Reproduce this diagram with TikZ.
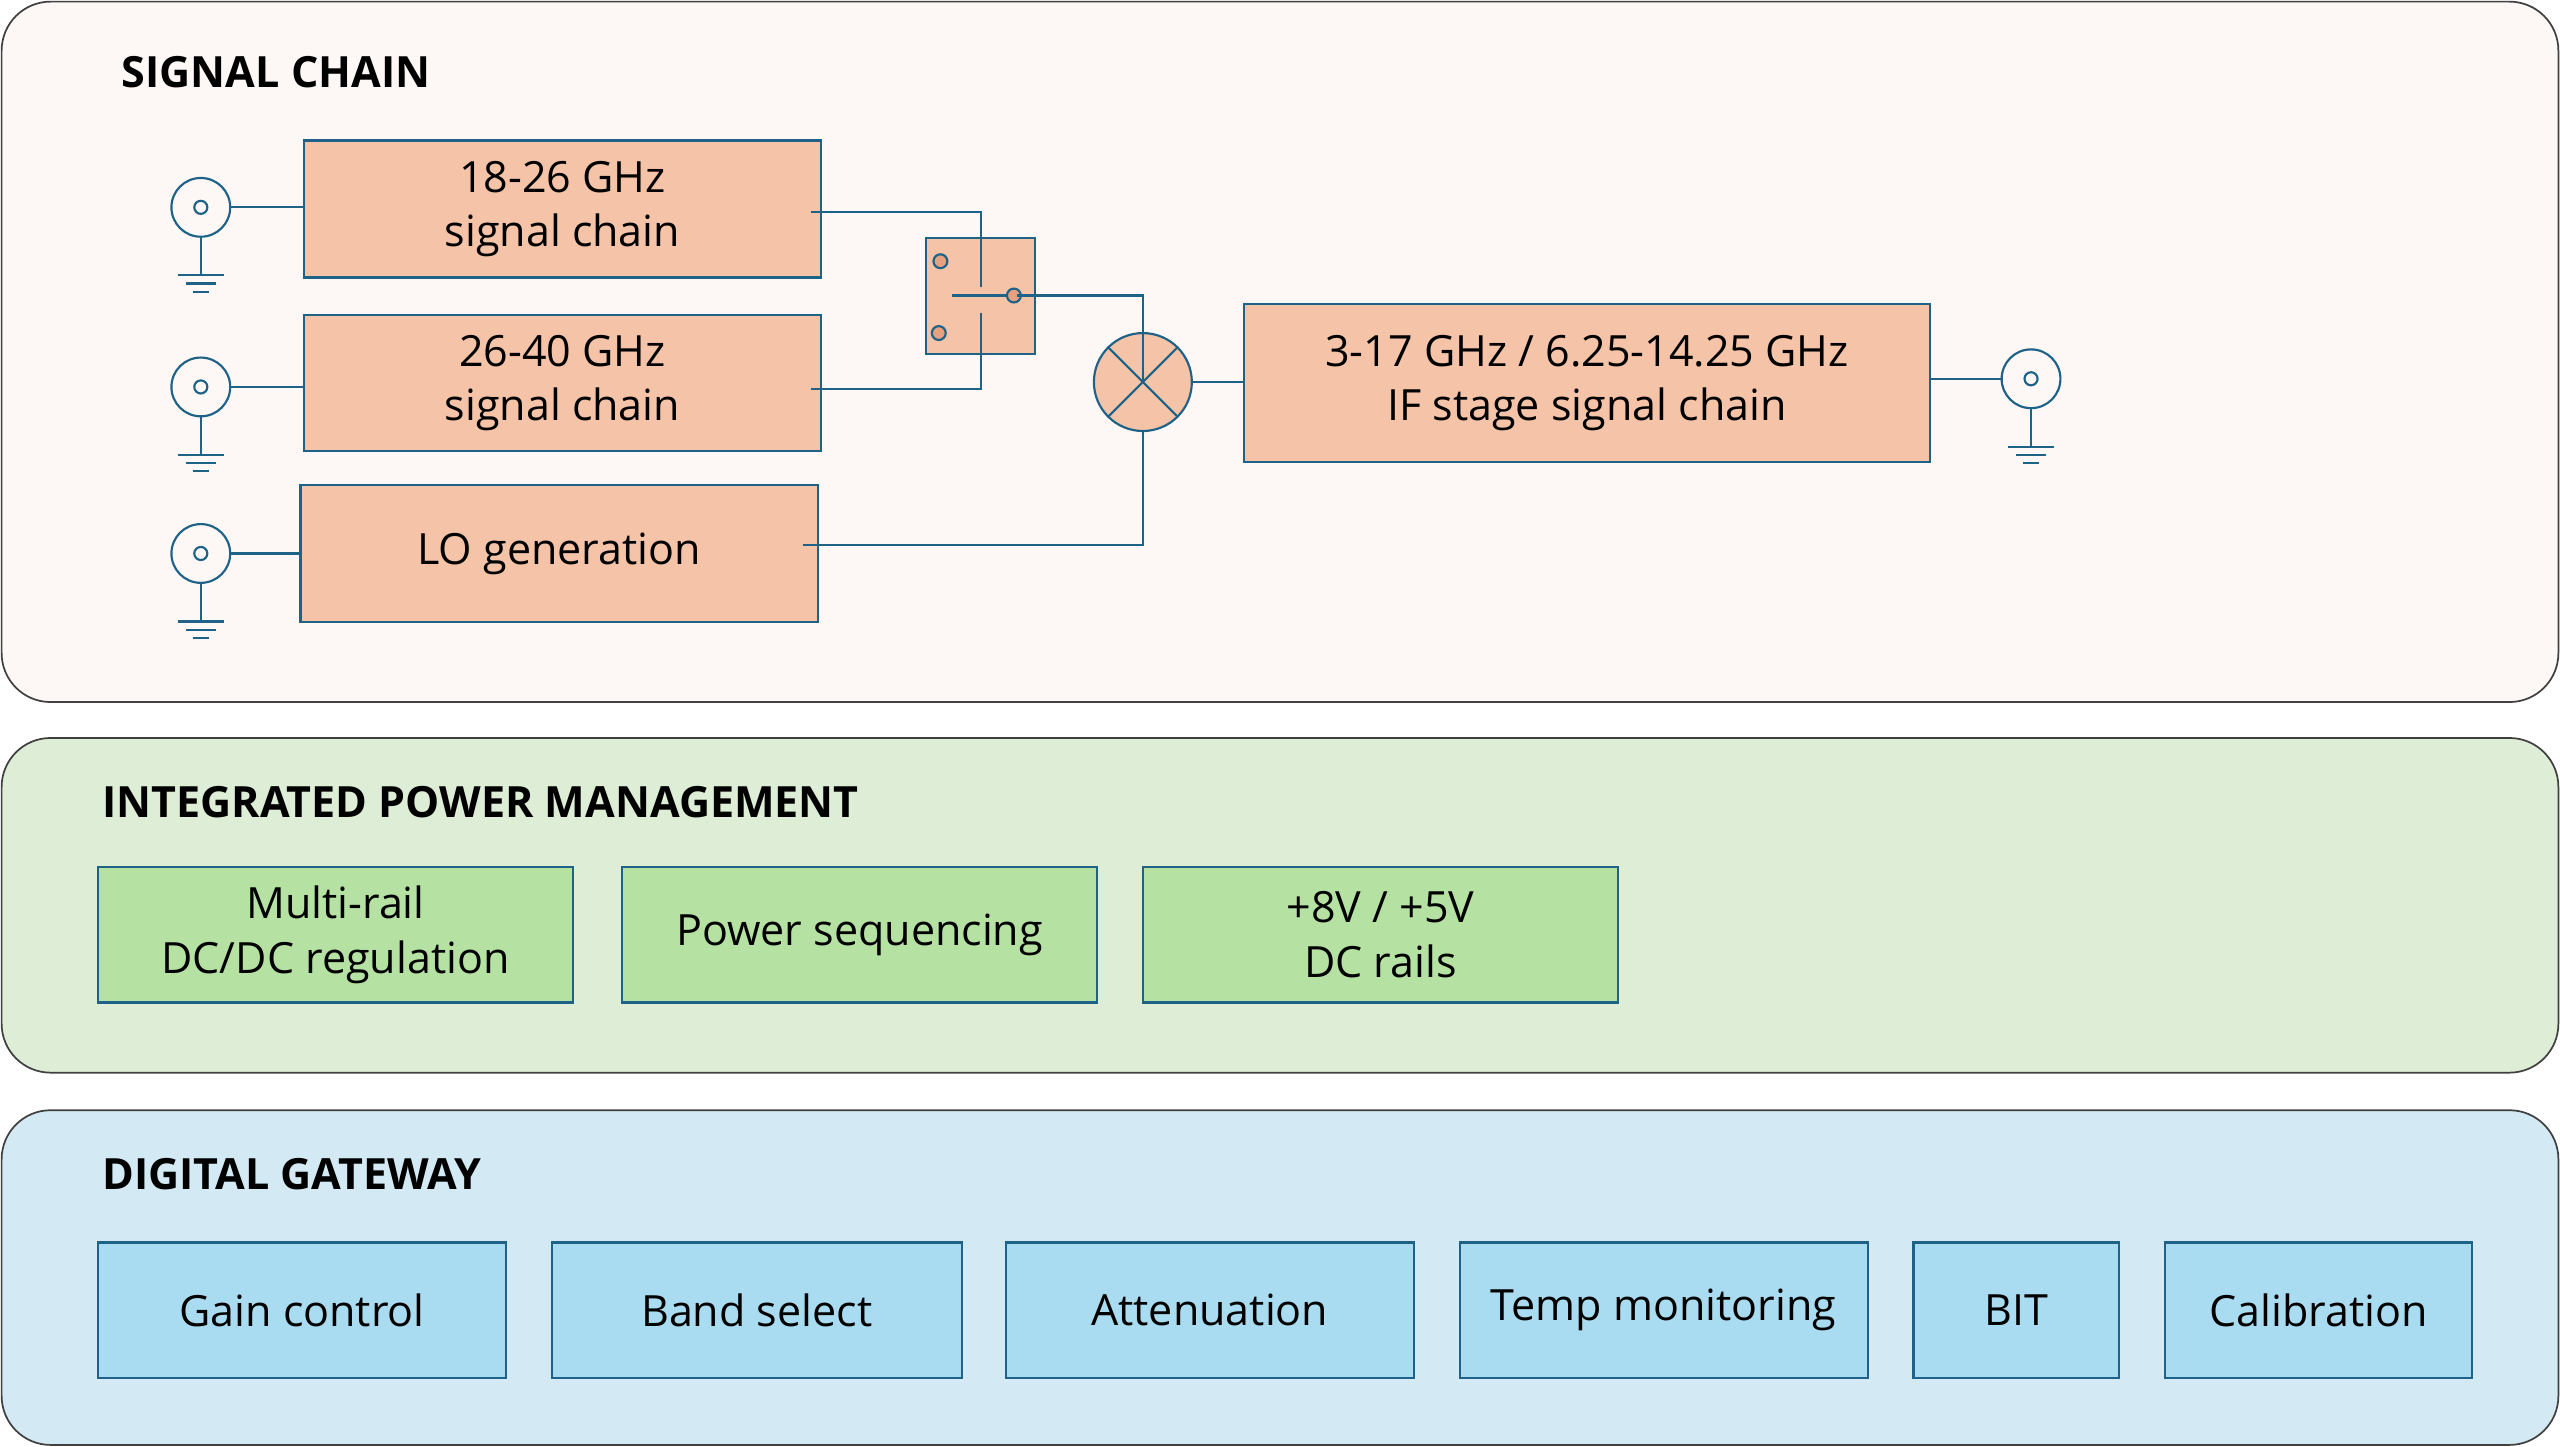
\documentclass[tikz,border=0pt]{standalone}
\usepackage{fontspec}
\setmainfont{Open Sans}
\usetikzlibrary{positioning}
\definecolor{wire}{HTML}{1F6288}
\definecolor{rfbg}{HTML}{FDF8F6}
\definecolor{rffill}{HTML}{F4C3A8}
\definecolor{rfdot}{HTML}{E8A17F}
\definecolor{pwbg}{HTML}{DDEDD6}
\definecolor{pwfill}{HTML}{B5E2A3}
\definecolor{dgbg}{HTML}{D3EAF5}
\definecolor{dgfill}{HTML}{A9DCF0}
\begin{document}
\begin{tikzpicture}[x=0.02cm,y=-0.02cm,line width=0.75pt,
        panel/.style={draw=black!75,rounded corners=0.6cm,line width=0.6pt},
        title/.style={anchor=west,inner sep=0pt,font=\fontsize{15}{18}\selectfont\bfseries},
        rf box/.style={draw=wire,fill=rffill,inner sep=0pt,align=center,font=\fontsize{15}{19}\selectfont},
        pw box/.style={draw=wire,fill=pwfill,inner sep=0pt,align=center,minimum width=5.82cm,minimum height=1.66cm,font=\fontsize{15}{19}\selectfont},
        dg box/.style={draw=wire,fill=dgfill,inner sep=0pt,align=center,minimum height=1.66cm,font=\fontsize{15}{19}\selectfont},
        wire/.style={draw=wire},
        port/.style={circle,draw=wire,minimum size=0.72cm,inner sep=0pt}]

    \useasboundingbox (0,0) rectangle (1568,886);

    % panels
    \draw[panel,fill=rfbg] (1,1) rectangle (1567,430);
    \draw[panel,fill=pwbg] (1,452) rectangle (1567,657);
    \draw[panel,fill=dgbg] (1,680) rectangle (1567,885);
    \node[title] (t1) at (74,44)  {SIGNAL CHAIN};
    \node[title] (t2) at (62,491) {INTEGRATED POWER MANAGEMENT};
    \node[title] (t3) at (62,719) {DIGITAL GATEWAY};

    % signal chain
    \node[rf box,minimum width=6.34cm,minimum height=1.68cm] (k1) at (344.5,128) {18-26 GHz\\signal chain};
    \node[rf box,minimum width=6.34cm,minimum height=1.66cm] (k2) at (344.5,234.5) {26-40 GHz\\signal chain};
    \node[rf box,minimum width=6.34cm,minimum height=1.68cm] (lo) at (342.5,339) {LO generation};
    \node[rf box,minimum width=8.4cm,minimum height=1.94cm] (if) at (972,234.5) {3-17 GHz / 6.25-14.25 GHz\\IF stage signal chain};
    \node[rf box,minimum width=1.34cm,minimum height=1.42cm] (sw) at (600.5,181.5) {};
    \node[circle,draw=wire,fill=rffill,minimum size=1.2cm,inner sep=0pt] (mx) at (700,234) {};
    \draw[wire] (mx.45) -- (mx.225) (mx.135) -- (mx.315);

    % switch contacts
    \node[circle,draw=wire,fill=rfdot,minimum size=0.17cm,inner sep=0pt] (s1) at (576,160) {};
    \node[circle,draw=wire,fill=rfdot,minimum size=0.17cm,inner sep=0pt] (s2) at (575,204) {};
    \node[circle,draw=wire,fill=rfdot,minimum size=0.17cm,inner sep=0pt] (s3) at (621,181) {};
    \coordinate (sa) at (583,181);
    \draw[wire] (sa) -- (s3.west);

    % connectors
    \foreach \n/\x/\y in {p1/123/127,p2/123/237,p3/123/339,p4/1244/232}{
        \node[port] (\n) at (\x,\y) {};
        \draw[wire] (\n) circle (4);
        \draw[wire] (\n.south) -- ++(0,23)
            ++(-14,0) -- ++(28,0) ++(-23,5) -- ++(18,0) ++(-14,5) -- ++(10,0);
    }

    % wiring
    \draw[wire] (p1.east) -- (k1.west |- p1);
    \draw[wire] (p2.east) -- (k2.west |- p2);
    \draw[wire] (p3.east) -- (lo.west |- p3);
    \draw[wire] ([xshift=-0.14cm,yshift=-0.04cm]k1.east) -| (601,176);
    \draw[wire] ([xshift=-0.14cm,yshift=-0.07cm]k2.east) -| (601,192);
    \draw[wire] ([xshift=-0.06cm]s3.east) -| (mx.center);
    \draw[wire] ([xshift=-0.2cm,yshift=0.1cm]lo.east) -| (mx.south);
    \draw[wire] (mx.east) -- (if.west |- mx);
    \draw[wire] (if.east |- p4) -- (p4.west);

    % power management
    \node[pw box] (dc) at (205.5,572.5) {Multi-rail\\DC/DC regulation};
    \node[pw box] (sq) at (526.5,572.5) {Power sequencing};
    \node[pw box] (rl) at (845.5,572.5) {+8V / +5V\\DC rails};

    % digital gateway
    \node[dg box,minimum width=5cm]    (gc) at (185,802.5)    {Gain control};
    \node[dg box,minimum width=5.02cm] (bs) at (463.5,802.5)  {Band select};
    \node[dg box,minimum width=5cm]    (at) at (741,802.5)    {Attenuation};
    \node[dg box,minimum width=5cm]    (tm) at (1019,802.5)   {Temp monitoring};
    \node[dg box,minimum width=2.52cm] (bi) at (1235,802.5)   {BIT};
    \node[dg box,minimum width=3.76cm] (ca) at (1420,802.5)   {Calibration};
\end{tikzpicture}
\end{document}
